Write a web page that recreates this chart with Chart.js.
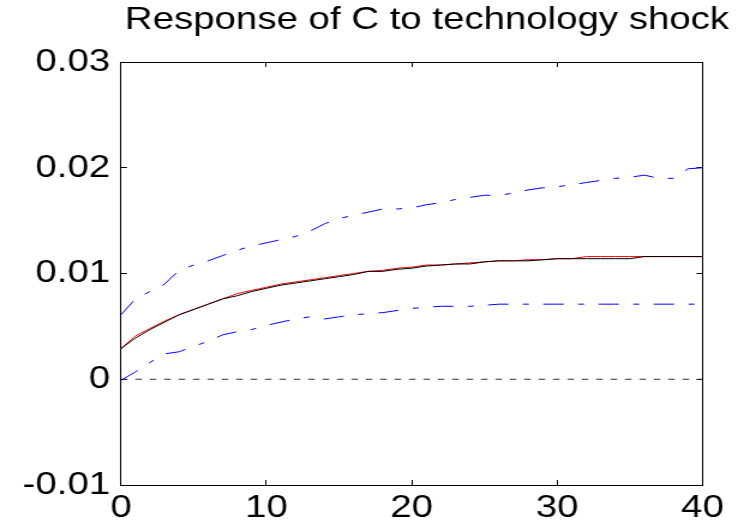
<!DOCTYPE html>
<html><head><meta charset="utf-8">
<script src="https://cdn.jsdelivr.net/npm/chart.js@4/dist/chart.umd.min.js"></script>
<style>
html,body{margin:0;padding:0;background:#fff;overflow:hidden;}
#wrap{position:absolute;left:0;top:0;width:615px;height:527px;transform:scaleX(1.2);transform-origin:0 0;}
</style></head><body>
<div id="wrap"><canvas id="c"></canvas></div>
<script>
const titleText = 'Response of C to technology shock';
const periods = [0,1,2,3,4,5,6,7,8,9,10,11,12,13,14,15,16,17,18,19,20,21,22,23,24,25,26,27,28,29,30,31,32,33,34,35,36,37,38,39,40];
const blackResponse = [0.0029,0.0039,0.0047,0.0054,0.0061,0.0066,0.0071,0.0076,0.0079,0.0083,0.0086,0.0089,0.0091,0.0093,0.0095,0.0097,0.0099,0.0102,0.0102,0.0104,0.0105,0.0107,0.0108,0.0109,0.0109,0.0111,0.0112,0.0112,0.0112,0.0113,0.0114,0.0114,0.0114,0.0114,0.0114,0.0114,0.0116,0.0116,0.0116,0.0116,0.0116];
const redResponse = [0.0029,0.0041,0.0048,0.0055,0.0061,0.0066,0.0071,0.0076,0.0081,0.0084,0.0087,0.0090,0.0092,0.0094,0.0096,0.0098,0.0100,0.0102,0.0103,0.0105,0.0106,0.0108,0.0108,0.0109,0.0110,0.0111,0.0112,0.0112,0.0113,0.0113,0.0114,0.0114,0.0116,0.0116,0.0116,0.0116,0.0116,0.0116,0.0116,0.0116,0.0116];
const upperBand = [0.0061,0.0076,0.0083,0.0090,0.0103,0.0108,0.0112,0.0117,0.0122,0.0126,0.0129,0.0132,0.0135,0.0140,0.0147,0.0152,0.0155,0.0158,0.0161,0.0161,0.0162,0.0165,0.0167,0.0170,0.0172,0.0174,0.0174,0.0176,0.0179,0.0181,0.0182,0.0184,0.0186,0.0188,0.0190,0.0191,0.0193,0.0190,0.0190,0.0199,0.0200];
const lowerBand = [-0.0001,0.0007,0.0016,0.0024,0.0026,0.0031,0.0036,0.0042,0.0045,0.0047,0.0051,0.0054,0.0057,0.0059,0.0057,0.0059,0.0061,0.0062,0.0063,0.0065,0.0067,0.0068,0.0069,0.0069,0.0069,0.0070,0.0071,0.0071,0.0071,0.0071,0.0071,0.0071,0.0071,0.0071,0.0071,0.0071,0.0071,0.0071,0.0071,0.0071,0.0071];
const zeroLineX = [0, 40];
const zeroLineY = [0, 0];
const xTickValues = [0, 10, 20, 30, 40];
const xTickLabels = ['0', '10', '20', '30', '40'];
const yTickValues = [-0.01, 0, 0.01, 0.02, 0.03];
const yTickLabels = ['-0.01', '0', '0.01', '0.02', '0.03'];

const toPts = (xs, ys) => xs.map((x, i) => ({x: x, y: ys[i]}));
const FONT = {family: '"Liberation Sans", Arial, sans-serif', size: 32, weight: 'normal'};
const gridOpts = {drawOnChartArea: false, tickLength: -5, color: '#000', lineWidth: 1};
const borderOpts = {color: '#000', width: 1};
const noPad = s => { s.paddingLeft = 0; s.paddingRight = 0; s.paddingTop = 0; s.paddingBottom = 0; };

new Chart(document.getElementById('c'), {
  type: 'line',
  data: {
    datasets: [
      {data: toPts(periods, blackResponse), borderColor: '#000', borderWidth: 1},
      {data: toPts(periods, redResponse), borderColor: '#ff0000', borderWidth: 1},
      {data: toPts(periods, upperBand), borderColor: '#0000ff', borderWidth: 1, borderDash: [17, 12, 5, 12]},
      {data: toPts(periods, lowerBand), borderColor: '#0000ff', borderWidth: 1, borderDash: [17, 12, 5, 12]},
      {data: toPts(zeroLineX, zeroLineY), borderColor: '#333', borderWidth: 1, borderDash: [5.5, 6.5]}
    ]
  },
  options: {
    responsive: true,
    maintainAspectRatio: false,
    animation: false,
    parsing: false,
    elements: {point: {radius: 0}, line: {tension: 0, fill: false}},
    layout: {padding: {left: 0, right: 7.5, top: 0, bottom: 0}},
    plugins: {
      legend: {display: false},
      tooltip: {enabled: false},
      title: {display: true, text: titleText, align: 'end', color: '#000', font: FONT, padding: {top: 1, bottom: 0}}
    },
    scales: {
      x: {
        type: 'linear', position: 'bottom', min: 0, max: 40,
        afterBuildTicks: s => { s.ticks = xTickValues.map(v => ({value: v})); },
        ticks: {callback: (v, i) => xTickLabels[i], font: FONT, color: '#000', padding: 9, maxRotation: 0, autoSkip: false},
        grid: gridOpts, border: borderOpts,
        afterFit: s => { s.height = 42; noPad(s); }
      },
      x2: {
        type: 'linear', position: 'top', min: 0, max: 40,
        afterBuildTicks: s => { s.ticks = xTickValues.map(v => ({value: v})); },
        ticks: {display: false},
        grid: gridOpts, border: borderOpts,
        afterFit: s => { s.height = 22.6; noPad(s); }
      },
      y: {
        type: 'linear', position: 'left', min: -0.01, max: 0.03,
        afterBuildTicks: s => { s.ticks = yTickValues.map(v => ({value: v})); },
        ticks: {callback: (v, i) => yTickLabels[i], font: FONT, color: '#000', padding: 14, autoSkip: false},
        grid: gridOpts, border: borderOpts,
        afterFit: s => { s.width = 100.8; noPad(s); }
      },
      y2: {
        type: 'linear', position: 'right', min: -0.01, max: 0.03,
        afterBuildTicks: s => { s.ticks = yTickValues.map(v => ({value: v})); },
        ticks: {display: false},
        grid: gridOpts, border: borderOpts,
        afterFit: s => { s.width = 22.1; noPad(s); }
      }
    }
  }
});
</script>
</body></html>
